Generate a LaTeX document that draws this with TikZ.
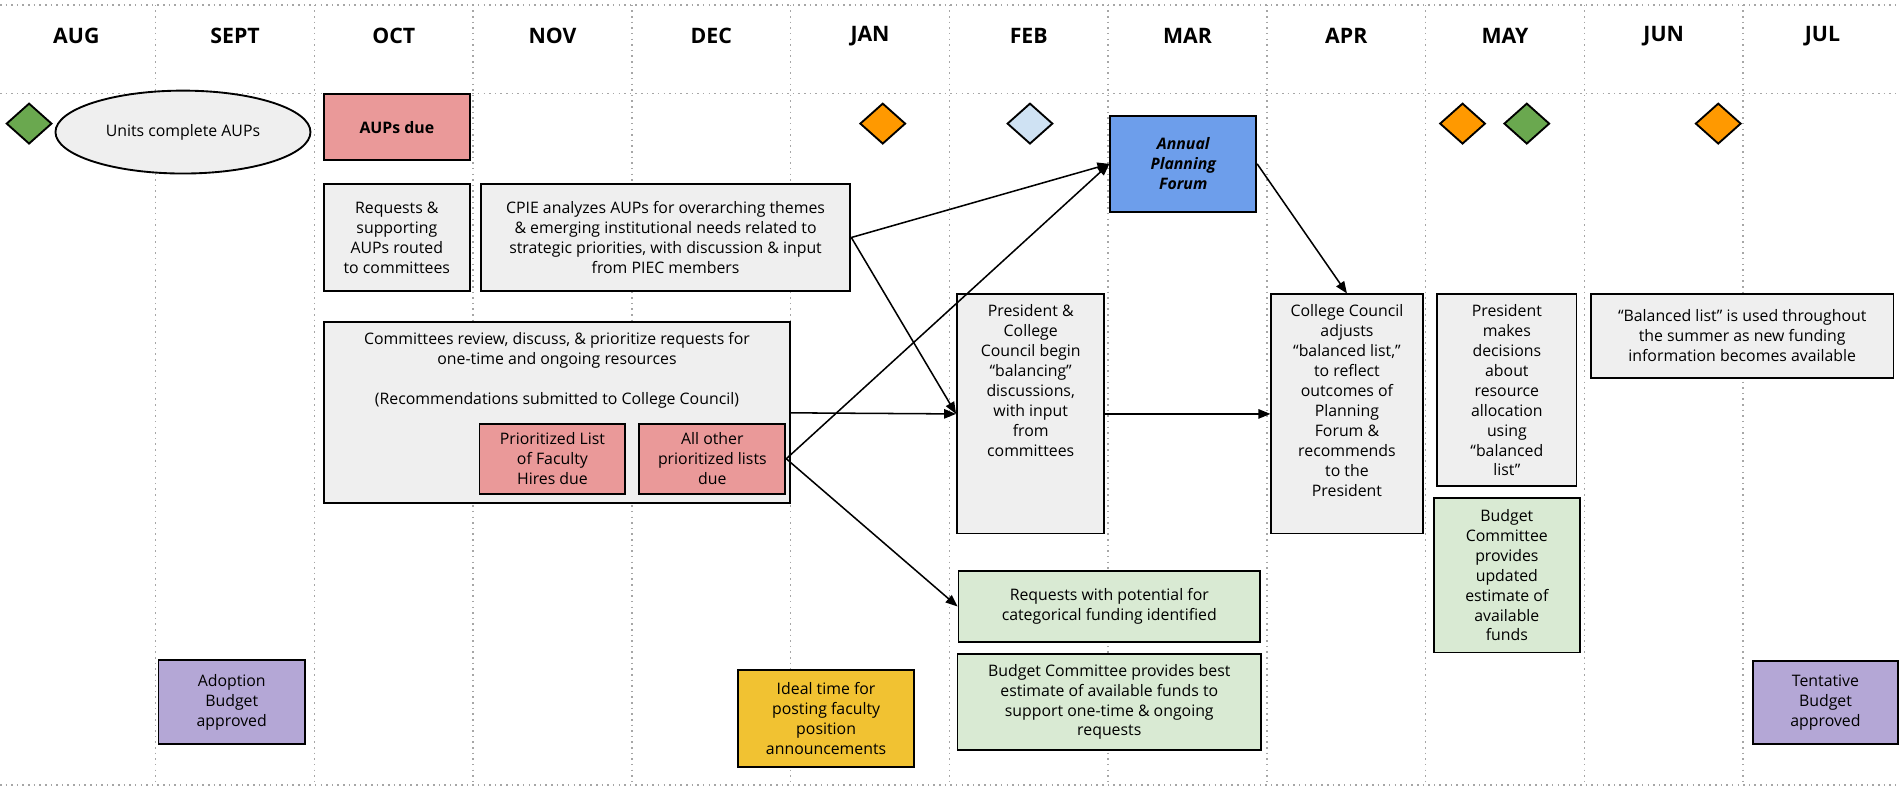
\documentclass[tikz,border=0pt]{standalone}
\usepackage{fontspec}
\setmainfont{Open Sans}
\usetikzlibrary{positioning, shapes.geometric, arrows.meta}

\definecolor{cellgray}{HTML}{EFEFEF}
\definecolor{duepink}{HTML}{EA9999}
\definecolor{forumblue}{HTML}{6D9EEB}
\definecolor{fundgreen}{HTML}{D9EAD3}
\definecolor{budgetpurple}{HTML}{B4A7D6}
\definecolor{postgold}{HTML}{F1C232}
\definecolor{markorange}{HTML}{FF9900}
\definecolor{markgreen}{HTML}{6AA84F}
\definecolor{markblue}{HTML}{CFE2F3}
\definecolor{gridgray}{HTML}{A6A6A6}

\begin{document}
\begin{tikzpicture}[x=0.025cm, y=-0.025cm,
  gridline/.style = {draw=gridgray, line width=0.9pt, dash pattern=on 0.9pt off 2.4pt},
  monthlabel/.style = {font=\fontsize{12.5}{15}\selectfont\bfseries},
  taskbox/.style = {draw, line width=1.1pt, align=center, inner sep=2pt, font=\fontsize{9.3}{11.7}\selectfont},
  milestone/.style = {draw, diamond, line width=1.1pt, inner sep=0pt, minimum width=0.94cm, minimum height=0.84cm},
  flow/.style = {-{Triangle[length=7pt, width=5.5pt]}, line width=0.9pt}]
\useasboundingbox (0,0) rectangle (1568,650);

% month grid
\foreach \x in {0,...,10}
  \draw[gridline] (128.5+131*\x,4) -- (128.5+131*\x,648);
\draw[gridline] (0,4) -- (1568,4);
\draw[gridline] (0,77) -- (1568,77);
\draw[gridline] (0,648) -- (1568,648);
\foreach \m [count=\i from 0] in {AUG,SEPT,OCT,NOV,DEC,JAN,FEB,MAR,APR,MAY,JUN,JUL}
  \node[monthlabel] (m\i) at (63+131*\i,30) {\m};

% milestones
\node[milestone, fill=markgreen] (ms1) at (24,102) {};
\node[milestone, fill=markorange] (ms2) at (728.5,102) {};
\node[milestone, fill=markblue] (ms3) at (850,102) {};
\node[milestone, fill=markorange] (ms4) at (1207,102) {};
\node[milestone, fill=markgreen] (ms5) at (1260,102) {};
\node[milestone, fill=markorange] (ms6) at (1418,102) {};

% fall
\node[taskbox, ellipse, fill=cellgray, minimum width=5.26cm, minimum height=1.71cm] (units) at (151,109) {Units complete AUPs};
\node[taskbox, fill=duepink, minimum width=3.01cm, minimum height=1.36cm, font=\fontsize{9.3}{11.7}\selectfont\bfseries] (aups) at (327.5,105) {AUPs due};
\node[taskbox, fill=cellgray, minimum width=3.01cm, minimum height=2.21cm] (route) at (327.5,196) {Requests \&\\supporting\\AUPs routed\\to committees};
\node[taskbox, fill=cellgray, minimum width=7.625cm, minimum height=2.21cm] (cpie) at (549.25,196) {CPIE analyzes AUPs for overarching themes\\\& emerging institutional needs related to\\strategic priorities, with discussion \& input\\from PIEC members};
\node[taskbox, fill=cellgray, minimum width=9.6cm, minimum height=3.73cm] (review) at (459.65,340.7) {\parbox[c][3.3cm][t]{9.3cm}{\centering Committees review, discuss, \& prioritize requests for\\one-time and ongoing resources\\[11.7pt](Recommendations submitted to College Council)}};
\node[taskbox, fill=duepink, minimum width=3.01cm, minimum height=1.45cm] (prio) at (455.9,378.6) {Prioritized List\\of Faculty\\Hires due};
\node[taskbox, fill=duepink, minimum width=3.01cm, minimum height=1.45cm] (other) [right=0.25cm of prio] {All other\\prioritized lists\\due};
\node[taskbox, fill=budgetpurple, minimum width=3.02cm, minimum height=1.73cm] (adopt) at (191.25,579.5) {Adoption\\Budget\\approved};
\node[taskbox, fill=postgold, minimum width=3.62cm, minimum height=1.99cm] (ideal) at (681.75,593) {Ideal time for\\posting faculty\\position\\announcements};

% spring
\node[taskbox, fill=forumblue, minimum width=3.01cm, minimum height=1.975cm, font=\fontsize{9.3}{11.7}\selectfont\bfseries\itshape] (forum) at (976.5,135.25) {Annual\\Planning\\Forum};
\node[taskbox, fill=cellgray, minimum width=3cm, minimum height=4.93cm] (pcc) at (850.6,341.6) {\parbox[c][4.5cm][t]{2.9cm}{\centering President \&\\College\\Council begin\\“balancing”\\discussions,\\with input\\from\\committees}};
\node[taskbox, fill=fundgreen, minimum width=6.22cm, minimum height=1.46cm] (reqpot) at (915.45,500.5) {Requests with potential for\\categorical funding identified};
\node[taskbox, fill=fundgreen, minimum width=6.26cm, minimum height=1.98cm] (bcbest) [below=0.21cm of reqpot] {Budget Committee provides best\\estimate of available funds to\\support one-time \& ongoing\\requests};
\node[taskbox, fill=cellgray, minimum width=3.12cm, minimum height=4.93cm] (ccadj) at (1111.6,341.6) {\parbox[c][4.5cm][t]{2.95cm}{\centering College Council\\adjusts\\“balanced list,”\\to reflect\\outcomes of\\Planning\\Forum \&\\recommends\\to the\\President}};
\node[taskbox, fill=cellgray, minimum width=2.87cm, minimum height=3.96cm] (presmk) at (1243.55,322.1) {President\\makes\\decisions\\about\\resource\\allocation\\using\\“balanced\\list”};
\node[taskbox, fill=fundgreen, minimum width=3.01cm, minimum height=3.19cm] (bcmay) [below=0.2cm of presmk] {Budget\\Committee\\provides\\updated\\estimate of\\available\\funds};
\node[taskbox, fill=cellgray, minimum width=6.24cm, minimum height=1.72cm] (balanced) at (1437.8,277.2) {“Balanced list” is used throughout\\the summer as new funding\\information becomes available};
\node[taskbox, fill=budgetpurple, minimum width=2.99cm, minimum height=1.72cm] (tent) at (1506.5,579.75) {Tentative\\Budget\\approved};

\draw[flow] (cpie.east) -- (forum.west);
\draw[flow] (cpie.east) -- (pcc.west);
\draw[flow] (review.east) -- (pcc.west);
\draw[flow] (other.east) -- (forum.west);
\draw[flow] (other.east) -- (reqpot.west);
\draw[flow] (forum.east) -- (ccadj.north);
\draw[flow] (pcc.east) -- (ccadj.west);
\end{tikzpicture}
\end{document}
